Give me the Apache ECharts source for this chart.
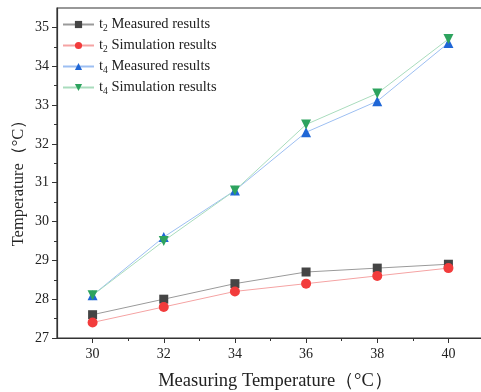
<!DOCTYPE html>
<html>
<head>
<meta charset="utf-8">
<script src="https://cdn.jsdelivr.net/npm/echarts@6/dist/echarts.min.js"></script>
<style>
  html, body { margin: 0; padding: 0; background: #fff; }
  #chart { width: 481px; height: 392px; }
</style>
</head>
<body>
<div id="chart"></div>
<script>
// x categories (measuring temperature, degC)
var measuringTemp = [30, 32, 34, 36, 38, 40];
var xTicks = [30, 32, 34, 36, 38, 40];
var xMinorTicks = [31, 33, 35, 37, 39];
var yTicks = [27, 28, 29, 30, 31, 32, 33, 34, 35];
var yMinorTicks = [27.5, 28.5, 29.5, 30.5, 31.5, 32.5, 33.5, 34.5];

var t2Measured = [27.6, 28.0, 28.4, 28.7, 28.8, 28.9];
var t2Simulation = [27.4, 27.8, 28.2, 28.4, 28.6, 28.8];
var t4Measured = [28.1, 29.6, 30.8, 32.3, 33.1, 34.6];
var t4Simulation = [28.1, 29.5, 30.8, 32.5, 33.3, 34.7];

var seriesNames = ['t2 Measured results', 't2 Simulation results', 't4 Measured results', 't4 Simulation results'];

function pairs(vals){
    var out = [];
    for(var i=0;i<vals.length;i++){
        out.push([measuringTemp[i], vals[i]]);
    }
    return out;
}

var font = '"Liberation Serif", "Times New Roman", serif';
var axisColor = '#333';

var myChart = echarts.init(document.getElementById('chart'));
myChart.setOption({
    animation: false,
    textStyle: { fontFamily: font },
    grid: {
        left: 57, top: 8, right: -3, bottom: 54,
        outerBoundsMode: 'none', containLabel: false,
        show: true, borderColor: axisColor, borderWidth: 1.2
    },
    legend: {
        orient: 'vertical',
        left: 62, top: 17, padding: 0,
        itemWidth: 31, itemHeight: 9, itemGap: 4.5,
        data: seriesNames,
        formatter: function(name){
            var p = name.split(' ');
            var t = p[0];
            return 't{sub|' + t.substring(1) + '} ' + p.slice(1).join(' ');
        },
        textStyle: {
            fontFamily: font, fontSize: 14.5, color: '#222',
            rich: { sub: { fontFamily: font, fontSize: 9.5, color: '#222', verticalAlign: 'bottom', padding: [8, 0, 0, 0] } }
        }
    },
    xAxis: [{
        type: 'value', min: 29, max: 41, interval: 1,
        name: 'Measuring Temperature（°C）',
        nameLocation: 'middle', nameGap: 34, nameMoveOverlap: false,
        nameTextStyle: { fontFamily: font, fontSize: 18.5, color: '#222', padding: [0, 0, 0, 10] },
        axisLine: { lineStyle: { color: axisColor, width: 1.2 } },
        axisTick: { inside: false, length: 5, customValues: xTicks, lineStyle: { color: axisColor } },
        axisLabel: { customValues: xTicks, fontFamily: font, fontSize: 14, color: '#222', margin: 9 },
        splitLine: { show: false }
    }, {
        type: 'value', min: 29, max: 41, position: 'bottom', gridIndex: 0,
        axisLine: { show: false },
        axisTick: { length: 3, customValues: xMinorTicks, lineStyle: { color: axisColor } },
        axisLabel: { show: false },
        splitLine: { show: false }
    }],
    yAxis: [{
        type: 'value', min: 27, max: 35.5, interval: 1,
        name: 'Temperature（°C）',
        nameLocation: 'middle', nameGap: 30, nameRotate: 90, nameMoveOverlap: false,
        nameTextStyle: { fontFamily: font, fontSize: 16.5, color: '#222', padding: [0, 12, 0, 0] },
        axisLine: { lineStyle: { color: axisColor, width: 1.2 } },
        axisTick: { length: 5, customValues: yTicks, lineStyle: { color: axisColor } },
        axisLabel: { customValues: yTicks, fontFamily: font, fontSize: 14, color: '#222', margin: 8 },
        splitLine: { show: false }
    }, {
        type: 'value', min: 27, max: 35.5, position: 'left',
        axisLine: { show: false },
        axisTick: { length: 3, customValues: yMinorTicks, lineStyle: { color: axisColor } },
        axisLabel: { show: false },
        splitLine: { show: false }
    }],
    series: [{
        name: seriesNames[0], type: 'line', data: pairs(t2Measured),
        symbol: 'rect', symbolSize: 9,
        itemStyle: { color: '#454545' },
        lineStyle: { color: '#9a9a9a', width: 1 }
    }, {
        name: seriesNames[1], type: 'line', data: pairs(t2Simulation),
        symbol: 'circle', symbolSize: 10,
        itemStyle: { color: '#f23c3c' },
        lineStyle: { color: '#f5a3a3', width: 1 }
    }, {
        name: seriesNames[2], type: 'line', data: pairs(t4Measured),
        symbol: 'triangle', symbolSize: 10,
        itemStyle: { color: '#1f66d6' },
        lineStyle: { color: '#9dbff2', width: 1 }
    }, {
        name: seriesNames[3], type: 'line', data: pairs(t4Simulation),
        symbol: 'triangle', symbolSize: 10, symbolRotate: 180,
        itemStyle: { color: '#2da35e' },
        lineStyle: { color: '#a9dcbd', width: 1 }
    }]
});
</script>
</body>
</html>
